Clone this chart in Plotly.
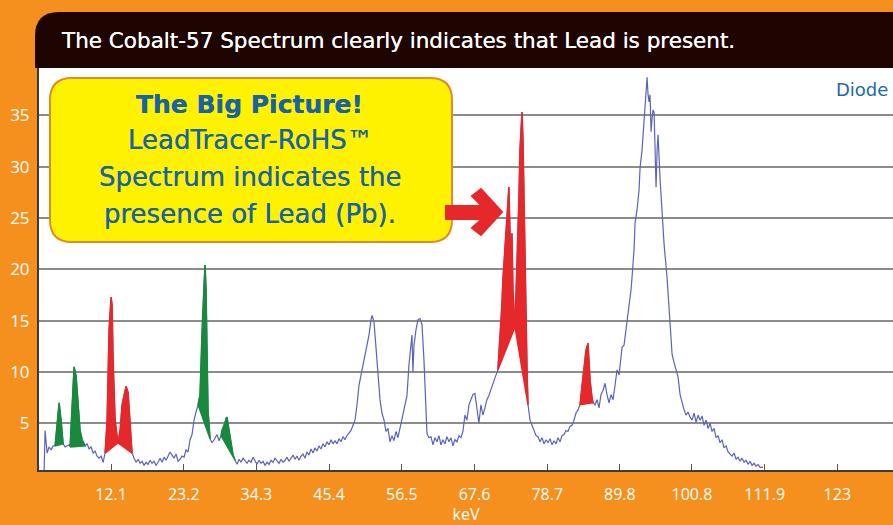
import plotly.graph_objects as go

# ---------------- data ----------------
kev = [1.88, 2.03, 2.34, 2.64, 2.95, 3.25, 3.56, 3.86, 4.17, 4.47, 4.78, 5.08, 5.39, 5.69, 5.85,
       6.15, 6.46, 6.76, 7.07, 7.37, 7.68, 8.14, 8.44, 8.75, 9.05, 9.36, 9.66, 9.97, 10.27, 10.58,
       10.89, 11.19, 11.50, 11.80, 12.11, 12.26, 12.41, 12.72, 13.02, 13.18, 13.48, 13.79, 14.09,
       14.40, 14.70, 15.01, 15.31, 15.62, 15.92, 16.23, 16.53, 16.84, 17.14, 17.45, 17.75, 18.06,
       18.36, 18.67, 18.97, 19.28, 19.59, 19.89, 20.20, 20.50, 20.81, 21.11, 21.42, 21.72, 22.03,
       22.33, 22.64, 22.94, 23.25, 23.55, 23.86, 24.16, 24.47, 24.77, 25.08, 25.39, 25.69, 26.00,
       26.30, 26.45, 26.61, 26.76, 26.91, 27.22, 27.52, 27.83, 28.13, 28.29, 28.59, 28.90, 29.05,
       29.36, 29.66, 29.81, 30.12, 30.42, 30.73, 31.04, 31.34, 31.65, 31.95, 32.26, 32.56, 32.87,
       33.17, 33.48, 33.78, 34.09, 34.39, 34.70, 35.00, 35.31, 35.61, 35.92, 36.23, 36.53, 36.84,
       37.14, 37.45, 37.75, 38.06, 38.36, 38.67, 38.97, 39.28, 39.58, 39.89, 40.19, 40.50, 40.80,
       41.11, 41.41, 41.72, 42.02, 42.33, 42.63, 42.94, 43.24, 43.55, 43.86, 44.16, 44.47, 44.77,
       45.08, 45.38, 45.69, 45.99, 46.30, 46.60, 46.91, 47.21, 47.52, 47.82, 48.13, 48.44, 48.74,
       49.05, 49.35, 49.66, 49.96, 50.27, 50.57, 50.88, 51.18, 51.49, 51.80, 51.95, 52.25, 52.56,
       52.86, 53.17, 53.47, 53.78, 54.08, 54.39, 54.69, 55.00, 55.30, 55.61, 55.91, 56.22, 56.52,
       56.68, 56.98, 57.29, 57.59, 57.90, 58.05, 58.20, 58.36, 58.66, 58.97, 59.27, 59.58, 59.88,
       60.19, 60.34, 60.65, 60.95, 61.26, 61.56, 61.87, 62.17, 62.48, 62.78, 63.09, 63.39, 63.70,
       64.00, 64.31, 64.61, 64.92, 65.22, 65.53, 65.83, 66.14, 66.44, 66.75, 67.05, 67.36, 67.66,
       67.97, 68.27, 68.58, 68.88, 69.19, 69.49, 69.80, 70.10, 70.41, 70.71, 71.17, 71.48, 71.78,
       71.94, 72.24, 72.55, 72.85, 73.01, 73.16, 73.32, 73.47, 73.78, 74.08, 74.24, 74.39, 74.54,
       74.70, 74.85, 75.00, 75.16, 75.31, 75.46, 75.62, 75.77, 76.08, 76.38, 76.69, 76.99, 77.30,
       77.60, 77.91, 78.21, 78.52, 78.82, 79.13, 79.44, 79.74, 80.05, 80.35, 80.66, 80.96, 81.27,
       81.57, 81.88, 82.18, 82.49, 82.79, 83.10, 83.40, 83.71, 84.01, 84.32, 84.62, 84.93, 85.08,
       85.24, 85.54, 85.70, 86.00, 86.31, 86.61, 86.92, 87.22, 87.53, 87.83, 88.14, 88.45, 88.75,
       89.06, 89.36, 89.67, 89.97, 90.13, 90.43, 90.74, 90.89, 91.20, 91.50, 91.65, 91.96, 92.11,
       92.42, 92.72, 92.88, 93.18, 93.49, 93.64, 93.95, 94.10, 94.25, 94.40, 94.56, 94.71, 94.86,
       95.02, 95.17, 95.32, 95.48, 95.63, 95.94, 96.24, 96.55, 97.00, 97.31, 97.61, 97.77, 98.07,
       98.38, 98.68, 98.99, 99.29, 99.60, 99.91, 100.21, 100.52, 100.82, 101.13, 101.43, 101.74,
       102.04, 102.35, 102.65, 102.96, 103.26, 103.57, 103.87, 104.18, 104.48, 104.79, 105.09,
       105.40, 105.70, 106.01, 106.32, 106.62, 106.93, 107.23, 107.54, 107.84, 108.15, 108.45,
       108.76, 109.06, 109.37, 109.67, 109.98, 110.28, 110.59, 110.89, 111.20, 111.66]

counts = [0.3, 4.3, 2.1, 2.7, 2.4, 2.8, 2.8, 4.8, 7.0, 5.3, 3.0, 2.7, 2.8, 2.9, 2.7,
          7.3, 10.5, 9.6, 7.3, 4.3, 3.4, 2.8, 3.0, 2.5, 2.7, 2.1, 2.3, 1.8, 1.6, 1.8,
          1.2, 2.1, 5.3, 14.1, 17.3, 16.5, 11.2, 5.3, 3.4, 3.1, 4.3, 6.8, 7.8,
          8.6, 8.0, 5.3, 2.1, 1.6, 1.2, 1.5, 1.1, 1.3, 0.9, 1.2, 1.0, 1.4,
          1.1, 1.3, 0.9, 1.2, 1.6, 1.2, 1.7, 1.4, 1.9, 2.2, 1.9, 1.6, 2.0,
          1.3, 1.5, 1.8, 1.7, 2.4, 2.2, 3.4, 3.9, 5.3, 6.1, 6.8, 7.8, 14.1,
          18.5, 20.4, 18.0, 11.2, 6.3, 3.5, 3.1, 3.4, 3.7, 3.9, 3.3, 3.8, 4.3,
          4.8, 5.5, 5.6, 4.3, 2.9, 1.9, 1.4, 1.0, 1.5, 1.2, 1.6, 1.3, 1.1,
          1.4, 1.2, 1.7, 1.3, 1.0, 1.4, 1.1, 1.3, 0.9, 1.2, 1.0, 1.4, 1.2,
          1.6, 1.3, 1.1, 1.5, 1.2, 1.4, 1.7, 1.3, 1.6, 1.9, 1.5, 1.8, 1.4,
          1.8, 2.0, 1.6, 2.2, 1.9, 2.5, 2.1, 2.6, 2.3, 2.8, 2.5, 3.0, 2.7,
          3.2, 2.9, 3.4, 3.0, 3.3, 3.0, 3.5, 3.2, 3.7, 3.4, 3.8, 4.1, 4.3,
          4.8, 5.3, 6.8, 8.7, 9.7, 10.7, 11.7, 12.4, 13.6, 15.1, 15.5, 14.9, 12.6,
          9.7, 7.3, 6.0, 5.3, 4.2, 4.5, 3.2, 3.8, 3.3, 4.2, 3.6, 4.5, 5.3,
          6.0, 6.8, 7.7, 10.7, 12.6, 13.6, 10.0, 12.6, 14.1, 15.1, 15.2, 14.6, 11.2,
          6.3, 4.0, 3.6, 3.7, 2.9, 3.6, 3.2, 3.8, 2.9, 3.4, 3.0, 3.7, 3.2,
          3.6, 2.8, 3.4, 3.2, 3.8, 3.6, 4.2, 5.8, 5.3, 6.8, 7.3, 7.8, 7.9,
          6.3, 5.0, 6.8, 5.8, 6.5, 7.3, 7.7, 8.2, 8.7, 9.4, 10.2, 13.1, 16.5,
          19.0, 21.9, 25.3, 28.0, 23.8, 20.9, 23.5, 17.9, 14.4, 19.9, 23.8, 27.0, 31.6,
          34.0, 35.3, 32.6, 25.8, 19.6, 14.1, 10.2, 6.8, 5.3, 4.8, 4.2, 3.8, 3.7,
          3.2, 3.6, 3.0, 3.4, 3.1, 3.5, 2.9, 3.3, 3.0, 3.6, 3.2, 3.8, 3.9,
          4.3, 4.2, 4.7, 4.8, 5.3, 6.0, 6.3, 6.8, 8.7, 10.7, 12.1, 12.8, 11.2,
          9.2, 7.5, 7.0, 6.8, 7.3, 6.5, 7.8, 8.2, 8.9, 7.8, 7.0, 7.8, 7.3,
          8.7, 10.2, 9.7, 11.7, 12.4, 12.6, 14.1, 15.3, 16.5, 18.0, 19.2, 21.9, 24.5,
          25.8, 27.7, 29.9, 31.6, 34.5, 35.5, 38.7, 37.0, 36.3, 37.0, 33.4, 34.7, 35.5,
          35.3, 31.6, 28.0, 31.6, 33.1, 28.7, 25.1, 22.4, 19.2, 16.0, 13.4, 11.7, 10.9,
          10.2, 9.5, 7.8, 7.0, 6.3, 5.8, 6.1, 5.6, 5.3, 6.0, 5.1, 5.8,
          5.3, 5.7, 4.8, 5.3, 4.5, 5.0, 4.2, 4.5, 3.6, 3.8, 3.1,
          3.4, 2.6, 2.8, 2.2, 2.0, 1.8, 2.1, 1.5, 1.7, 1.3, 1.6,
          1.2, 1.4, 1.0, 1.3, 0.9, 1.1, 0.8, 1.0, 0.7, 0.7]

# identified element peaks: element, start keV, end keV
peak_elements = ["Sb", "Fe", "Br", "Br", "Sn", "Sb", "Pb", "Pb", "Pb"]
peak_start = [3.5, 5.8, 11.1, 13.1, 25.3, 28.85, 71.1, 73.7, 83.6]
peak_end = [4.8, 8.2, 13.2, 15.35, 27.3, 31.1, 73.8, 75.8, 85.75]

# peak labels: text, keV, counts
label_text = ["Sb", "Fe", "Br", "Br", "Sn", "Sn", "Sn", "Sb", "Pb", "Pb", "Pb"]
label_kev = [3.9, 5.85, 9.97, 15.62, 25.39, 23.71, 28.44, 30.12, 74.08, 72.55, 84.01]
label_counts = [7.56, 11.16, 18.17, 9.21, 21.19, 7.26, 4.15, 6.29, 36.18, 28.78, 13.30]

x_tick_labels = ["12.1", "23.2", "34.3", "45.4", "56.5", "67.6", "78.7", "89.8", "100.8", "111.9", "123"]
y_tick_values = [5, 10, 15, 20, 25, 30, 35]

title_text = "The Cobalt-57 Spectrum clearly indicates that Lead is present."
callout_title = "The Big Picture!"
callout_lines = ["LeadTracer-RoHS™", "Spectrum indicates the", "presence of Lead (Pb)."]
detector_text = "Diode"
x_title = "keV"

# ---------------- styles ----------------
ORANGE = "#F5901F"
DARK = "#1E0502"
LINE_BLUE = "#5A63B8"
GREEN = "#178A3B"
RED = "#E6282B"
LABEL_BLUE = "#2F4C8F"
CALLOUT_BLUE = "#1863A6"
element_color = {"Sb": GREEN, "Fe": GREEN, "Sn": GREEN, "Br": RED, "Pb": RED}

W, H = 893, 525
L, R, T, B = 39, 0, 68, 55
PW, PH = W - L - R, H - T - B


def px(x):
    return (x - L) / PW


def py(y):
    return (H - B - y) / PH


def rounded_rect(x0, y0, x1, y1, r, corners="all"):
    def P(x, y):
        return f"{px(x):.5f},{py(y):.5f}"
    s = []
    if corners in ("all", "tl"):
        s.append(f"M {P(x0, y0 + r)} Q {P(x0, y0)} {P(x0 + r, y0)}")
    else:
        s.append(f"M {P(x0, y0)}")
    if corners == "all":
        s.append(f"L {P(x1 - r, y0)} Q {P(x1, y0)} {P(x1, y0 + r)}")
        s.append(f"L {P(x1, y1 - r)} Q {P(x1, y1)} {P(x1 - r, y1)}")
        s.append(f"L {P(x0 + r, y1)} Q {P(x0, y1)} {P(x0, y1 - r)} Z")
    else:
        s.append(f"L {P(x1, y0)} L {P(x1, y1)} L {P(x0, y1)} Z")
    return " ".join(s)


fig = go.Figure()

# spectrum line
fig.add_trace(go.Scatter(x=kev, y=counts, mode="lines",
                         line=dict(color=LINE_BLUE, width=1.2), hoverinfo="skip", showlegend=False))

# element peak fills
for el, a, b in zip(peak_elements, peak_start, peak_end):
    xs = [k for k in kev if a <= k <= b]
    ys = [c for k, c in zip(kev, counts) if a <= k <= b]
    col = element_color[el]
    fig.add_trace(go.Scatter(x=xs + [xs[0]], y=ys + [ys[0]], mode="lines", fill="toself",
                             fillcolor=col, line=dict(color=col, width=1.5),
                             hoverinfo="skip", showlegend=False))

# peak labels
for t, x, y in zip(label_text, label_kev, label_counts):
    fig.add_annotation(x=x, y=y, text=t, showarrow=False, xref="x", yref="y",
                       font=dict(family="Liberation Sans, Arial", size=12, color=LABEL_BLUE))

shapes = []
# title bar
shapes.append(dict(type="path", xref="paper", yref="paper", layer="above",
                   path=rounded_rect(35, 12, 900, 68, 24, corners="tl"),
                   fillcolor=DARK, line=dict(width=0)))
# callout box
shapes.append(dict(type="path", xref="paper", yref="paper", layer="above",
                   path=rounded_rect(50, 78, 452, 242, 22),
                   fillcolor="#FFF200", line=dict(color="#E08A2C", width=2)))
# red arrow
arrow_pts = [(446, 206), (482, 206), (472, 196), (481, 189), (502, 212), (481, 235),
             (472, 228), (482, 219), (446, 219)]
arrow_path = "M " + " L ".join(f"{px(a):.5f},{py(b):.5f}" for a, b in arrow_pts) + " Z"
shapes.append(dict(type="path", xref="paper", yref="paper", layer="above",
                   path=arrow_path, fillcolor=RED, line=dict(color=RED, width=2)))

ann = []
ann.append(dict(x=px(59), y=py(40), xref="paper", yref="paper", xanchor="left", yanchor="middle",
                text=title_text, showarrow=False,
                font=dict(family="DejaVu Sans", size=21.5, color="white")))
ann.append(dict(x=px(249), y=py(104), xref="paper", yref="paper", xanchor="center", yanchor="middle",
                text=f"<b>{callout_title}</b>", showarrow=False,
                font=dict(family="DejaVu Sans", size=25, color=CALLOUT_BLUE)))
for i, line in enumerate(callout_lines):
    ann.append(dict(x=px(250), y=py(140 + 37 * i), xref="paper", yref="paper",
                    xanchor="center", yanchor="middle", text=line, showarrow=False,
                    font=dict(family="DejaVu Sans", size=26, color=CALLOUT_BLUE)))
ann.append(dict(x=px(890), y=py(90), xref="paper", yref="paper", xanchor="right", yanchor="middle",
                text=detector_text, showarrow=False,
                font=dict(family="DejaVu Sans", size=18, color="#1A69AC")))

fig.update_layout(
    width=W, height=H,
    margin=dict(l=L, r=R, t=T, b=B, pad=0),
    paper_bgcolor=ORANGE, plot_bgcolor="white",
    shapes=shapes, annotations=ann,
    showlegend=False,
    xaxis=dict(range=[1.1, 131.5], tickmode="array",
               tickvals=[float(v) for v in x_tick_labels], ticktext=x_tick_labels,
               ticks="inside", ticklen=6, tickwidth=1, tickcolor="#555",
               ticklabelstandoff=9,
               showgrid=False, zeroline=False, showline=True, linecolor="#3a3a3a", linewidth=2,
               tickfont=dict(family="Open Sans", size=16, color="white"),
               title=dict(text=x_title, standoff=4, font=dict(family="Open Sans", size=16, color="white"))),
    yaxis=dict(range=[0.45, 39.6], tickmode="array", tickvals=y_tick_values,
               ticks="", showgrid=True, gridcolor="#8C8C8C", gridwidth=2,
               ticklabelstandoff=4,
               zeroline=False, showline=True, linecolor="#3a3a3a", linewidth=2,
               tickfont=dict(family="Open Sans", size=17, color="white")),
)

fig.write_html("out.html", config={"displayModeBar": False},
               post_script="document.body.style.margin='0';document.body.style.padding='0';")
